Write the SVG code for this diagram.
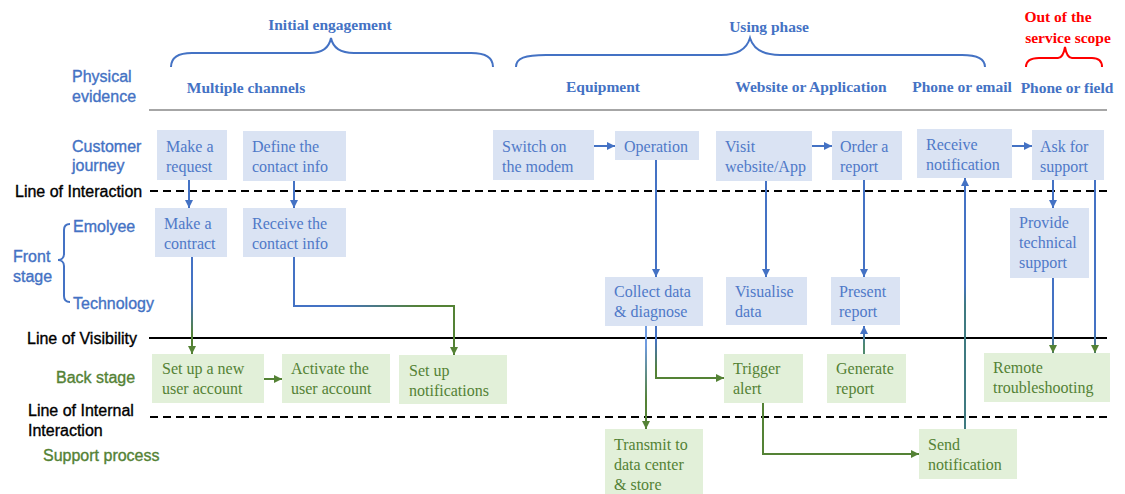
<svg xmlns="http://www.w3.org/2000/svg" width="1125" height="494" viewBox="0 0 1125 494">
  <style>
    .lbl { font-family: "Liberation Sans", Arial, sans-serif; font-size: 16px; stroke-width: 0.35px; }
    .blue { fill: #4472C4; }
    .lbl.blue { stroke: #4472C4; }
    .green { fill: #548235; }
    .lbl.green { stroke: #548235; }
    .black { fill: #000000; stroke: #000000; }
    .hd { font-family: "Liberation Serif", "Times New Roman", serif; font-weight: bold; font-size: 15.5px; fill: #4472C4; text-anchor: middle; }
    .red { fill: #FF0000; }
    .bx { font-family: "Liberation Serif", "Times New Roman", serif; font-size: 16px; }
    .bx.blue { fill: #4F79C8; }
    .bbox { fill: #DAE3F3; }
    .gbox { fill: #E2F0D9; }
    .brace { fill: none; stroke: #4472C4; stroke-width: 2; }
    .conn { fill: none; stroke-width: 2; }
    .sb { stroke: #4472C4; }
    .sg { stroke: #548235; }
  </style>
  <defs>
    <marker id="arrB" viewBox="0 0 8 8" refX="8" refY="4" markerWidth="8" markerHeight="8" markerUnits="userSpaceOnUse" orient="auto">
      <path d="M0,0 L8,4 L0,8 z" fill="#4472C4"/>
    </marker>
    <marker id="arrG" viewBox="0 0 8 8" refX="8" refY="4" markerWidth="8" markerHeight="8" markerUnits="userSpaceOnUse" orient="auto">
      <path d="M0,0 L8,4 L0,8 z" fill="#548235"/>
    </marker>
    <!-- blue-to-green fades for lines crossing the line of visibility -->
    <linearGradient id="gV1" gradientUnits="userSpaceOnUse" x1="0" y1="300" x2="0" y2="335">
      <stop offset="0" stop-color="#4472C4"/><stop offset="1" stop-color="#548235"/>
    </linearGradient>
    <linearGradient id="gH1" gradientUnits="userSpaceOnUse" x1="340" y1="0" x2="420" y2="0">
      <stop offset="0" stop-color="#4472C4"/><stop offset="1" stop-color="#548235"/>
    </linearGradient>
    <linearGradient id="gV2" gradientUnits="userSpaceOnUse" x1="0" y1="340" x2="0" y2="370">
      <stop offset="0" stop-color="#4472C4"/><stop offset="1" stop-color="#548235"/>
    </linearGradient>
    <linearGradient id="gV3" gradientUnits="userSpaceOnUse" x1="0" y1="285" x2="0" y2="305">
      <stop offset="0" stop-color="#4472C4"/><stop offset="1" stop-color="#3F7A80"/>
    </linearGradient>
    <linearGradient id="gV4" gradientUnits="userSpaceOnUse" x1="0" y1="332" x2="0" y2="345">
      <stop offset="0" stop-color="#4472C4"/><stop offset="1" stop-color="#4F8A6E"/>
    </linearGradient>
    <linearGradient id="gV5" gradientUnits="userSpaceOnUse" x1="0" y1="345" x2="0" y2="400">
      <stop offset="0" stop-color="#6F9BE0"/><stop offset="1" stop-color="#548235"/>
    </linearGradient>
    <linearGradient id="gV6" gradientUnits="userSpaceOnUse" x1="0" y1="330" x2="0" y2="370">
      <stop offset="0" stop-color="#4472C4"/><stop offset="1" stop-color="#548235"/>
    </linearGradient>
  </defs>

  <!-- phase headings and braces -->
  <g id="phases">
    <text class="hd" x="330" y="30">Initial engagement</text>
    <path class="brace" d="M171,67 C171,57 178,53 192,53 L310,53 C322,53 329,48 331,38 C333,48 340,53 354,53 L471,53 C485,53 493,57 493,67"/>
    <text class="hd" x="769" y="32">Using phase</text>
    <path class="brace" d="M516,67 C516,58 525,55 546,55 L721,55 C738,55 747,48 750,38 C753,48 762,55 780,55 L962,55 C977,55 985,59 985,67"/>
    <text class="hd red" x="1058" y="22">Out of the</text>
    <text class="hd red" x="1068" y="43">service scope</text>
    <path class="brace" style="stroke:#FF0000" d="M1026,67 C1026,61 1030,58 1039,58 L1058,58 C1062,58 1064,53 1065,47 C1066,53 1068,58 1072,58 L1092,58 C1099,58 1102,61 1102,67"/>
  </g>

  <!-- physical evidence row -->
  <g id="evidence">
    <text class="hd" x="246" y="93">Multiple channels</text>
    <text class="hd" x="603" y="92">Equipment</text>
    <text class="hd" x="811" y="92">Website or Application</text>
    <text class="hd" x="962" y="92">Phone or email</text>
    <text class="hd" x="1067" y="93">Phone or field</text>
  </g>

  <!-- swimlane labels -->
  <g id="lane-labels">
    <text class="lbl blue" x="72" y="82">Physical</text>
    <text class="lbl blue" x="72" y="102">evidence</text>
    <text class="lbl blue" x="72" y="152">Customer</text>
    <text class="lbl blue" x="72" y="171">journey</text>
    <text class="lbl black" x="15" y="197">Line of Interaction</text>
    <text class="lbl blue" x="73" y="232">Emolyee</text>
    <text class="lbl blue" x="13" y="262">Front</text>
    <text class="lbl blue" x="13" y="282">stage</text>
    <text class="lbl blue" x="73" y="309">Technology</text>
    <path class="brace" stroke-width="1.6" d="M70,224 C66,224 64,226 64,230 L64,254 C64,258 61,260 58,260 C61,260 64,262 64,266 L64,296 C64,300 66,302 70,302"/>
    <text class="lbl black" x="27" y="344">Line of Visibility</text>
    <text class="lbl green" x="56" y="383">Back stage</text>
    <text class="lbl black" x="28" y="416">Line of Internal</text>
    <text class="lbl black" x="28" y="436">Interaction</text>
    <text class="lbl green" x="43" y="461">Support process</text>
  </g>

  <!-- separator lines -->
  <g id="separators">
    <line x1="149" y1="110" x2="1107" y2="110" stroke="#A6A6A6" stroke-width="2"/>
    <line x1="150" y1="191" x2="1107" y2="191" stroke="#000" stroke-width="2" stroke-dasharray="8,5"/>
    <line x1="149" y1="338" x2="1107" y2="338" stroke="#000" stroke-width="2"/>
    <line x1="150" y1="417" x2="1107" y2="417" stroke="#000" stroke-width="2" stroke-dasharray="8,5"/>
  </g>

  <!-- connectors -->
  <g id="connectors">
    <path class="conn sb" d="M594,146 H615" marker-end="url(#arrB)"/>
    <path class="conn sb" d="M812,146 H832" marker-end="url(#arrB)"/>
    <path class="conn sb" d="M1012,146 H1032" marker-end="url(#arrB)"/>
    <path class="conn sb" d="M189,180 V208" marker-end="url(#arrB)"/>
    <path class="conn sb" d="M294,181 V208" marker-end="url(#arrB)"/>
    <path class="conn" stroke="url(#gV1)" d="M192,257 V354" marker-end="url(#arrG)"/>
    <path class="conn" stroke="url(#gH1)" d="M294,257 V306 H454 V355" marker-end="url(#arrG)"/>
    <path class="conn sb" d="M656,160 V277" marker-end="url(#arrB)"/>
    <path class="conn sb" stroke-width="2.6" d="M766,181 V277" marker-end="url(#arrB)"/>
    <path class="conn sb" stroke-width="2.6" d="M864,180 V277" marker-end="url(#arrB)"/>
    <path class="conn" stroke="url(#gV4)" d="M864,354 V326" marker-end="url(#arrB)"/>
    <path class="conn" stroke="url(#gV3)" d="M965,429 V178" marker-end="url(#arrB)"/>
    <path class="conn sb" d="M1053,180 V208" marker-end="url(#arrB)"/>
    <path class="conn" stroke="url(#gV6)" d="M1053,278 V353" marker-end="url(#arrG)"/>
    <path class="conn" stroke="url(#gV6)" stroke-width="1.5" d="M1095,180 V353" marker-end="url(#arrG)"/>
    <path class="conn" stroke="url(#gV5)" stroke-width="1.5" d="M646,326 V429" marker-end="url(#arrG)"/>
    <path class="conn" stroke="url(#gV2)" d="M656,326 V378 H724" marker-end="url(#arrG)"/>
    <path class="conn sg" d="M763,403 V454 H919" marker-end="url(#arrG)"/>
    <path class="conn sg" d="M264,379 H282" marker-end="url(#arrG)"/>
  </g>

  <!-- customer journey -->
  <g id="make-request">
    <rect class="bbox" x="157" y="130" width="70" height="50"/>
    <text class="bx blue" x="166" y="152">Make a</text>
    <text class="bx blue" x="166" y="172">request</text>
  </g>
  <g id="define-contact">
    <rect class="bbox" x="243" y="131" width="103" height="50"/>
    <text class="bx blue" x="252" y="152">Define the</text>
    <text class="bx blue" x="252" y="172">contact info</text>
  </g>
  <g id="switch-modem">
    <rect class="bbox" x="493" y="130" width="101" height="50"/>
    <text class="bx blue" x="502" y="152">Switch on</text>
    <text class="bx blue" x="502" y="172">the modem</text>
  </g>
  <g id="operation">
    <rect class="bbox" x="615" y="131" width="84" height="29"/>
    <text class="bx blue" x="624" y="152">Operation</text>
  </g>
  <g id="visit-website">
    <rect class="bbox" x="716" y="131" width="96" height="50"/>
    <text class="bx blue" x="725" y="152">Visit</text>
    <text class="bx blue" x="725" y="172">website/App</text>
  </g>
  <g id="order-report">
    <rect class="bbox" x="832" y="131" width="70" height="49"/>
    <text class="bx blue" x="840" y="152">Order a</text>
    <text class="bx blue" x="840" y="172">report</text>
  </g>
  <g id="receive-notification">
    <rect class="bbox" x="917" y="129" width="95" height="49"/>
    <text class="bx blue" x="926" y="150">Receive</text>
    <text class="bx blue" x="926" y="170">notification</text>
  </g>
  <g id="ask-support">
    <rect class="bbox" x="1032" y="130" width="72" height="50"/>
    <text class="bx blue" x="1040" y="152">Ask for</text>
    <text class="bx blue" x="1040" y="172">support</text>
  </g>

  <!-- front stage -->
  <g id="make-contract">
    <rect class="bbox" x="155" y="208" width="72" height="49"/>
    <text class="bx blue" x="164" y="229">Make a</text>
    <text class="bx blue" x="164" y="249">contract</text>
  </g>
  <g id="receive-contact">
    <rect class="bbox" x="243" y="208" width="103" height="49"/>
    <text class="bx blue" x="252" y="229">Receive the</text>
    <text class="bx blue" x="252" y="249">contact info</text>
  </g>
  <g id="collect-data">
    <rect class="bbox" x="605" y="277" width="98" height="49"/>
    <text class="bx blue" x="614" y="297">Collect data</text>
    <text class="bx blue" x="614" y="317">&amp; diagnose</text>
  </g>
  <g id="visualise-data">
    <rect class="bbox" x="726" y="277" width="81" height="48"/>
    <text class="bx blue" x="735" y="297">Visualise</text>
    <text class="bx blue" x="735" y="317">data</text>
  </g>
  <g id="present-report">
    <rect class="bbox" x="831" y="277" width="69" height="48"/>
    <text class="bx blue" x="839" y="297">Present</text>
    <text class="bx blue" x="839" y="317">report</text>
  </g>
  <g id="technical-support">
    <rect class="bbox" x="1010" y="208" width="79" height="70"/>
    <text class="bx blue" x="1019" y="228">Provide</text>
    <text class="bx blue" x="1019" y="248">technical</text>
    <text class="bx blue" x="1019" y="268">support</text>
  </g>

  <!-- back stage -->
  <g id="new-account">
    <rect class="gbox" x="152" y="354" width="112" height="49"/>
    <text class="bx green" x="162" y="374">Set up a new</text>
    <text class="bx green" x="162" y="394">user account</text>
  </g>
  <g id="activate-account">
    <rect class="gbox" x="282" y="354" width="108" height="49"/>
    <text class="bx green" x="291" y="374">Activate the</text>
    <text class="bx green" x="291" y="394">user account</text>
  </g>
  <g id="setup-notifications">
    <rect class="gbox" x="399" y="355" width="108" height="49"/>
    <text class="bx green" x="409" y="376">Set up</text>
    <text class="bx green" x="409" y="396">notifications</text>
  </g>
  <g id="trigger-alert">
    <rect class="gbox" x="724" y="354" width="79" height="49"/>
    <text class="bx green" x="733" y="374">Trigger</text>
    <text class="bx green" x="733" y="394">alert</text>
  </g>
  <g id="generate-report">
    <rect class="gbox" x="827" y="354" width="79" height="49"/>
    <text class="bx green" x="836" y="374">Generate</text>
    <text class="bx green" x="836" y="394">report</text>
  </g>
  <g id="remote-troubleshooting">
    <rect class="gbox" x="984" y="353" width="126" height="49"/>
    <text class="bx green" x="993" y="373">Remote</text>
    <text class="bx green" x="993" y="393">troubleshooting</text>
  </g>

  <!-- support process -->
  <g id="transmit-data">
    <rect class="gbox" x="605" y="429" width="98" height="70"/>
    <text class="bx green" x="614" y="450">Transmit to</text>
    <text class="bx green" x="614" y="470">data center</text>
    <text class="bx green" x="614" y="490">&amp; store</text>
  </g>
  <g id="send-notification">
    <rect class="gbox" x="919" y="429" width="98" height="50"/>
    <text class="bx green" x="928" y="450">Send</text>
    <text class="bx green" x="928" y="470">notification</text>
  </g>
</svg>
